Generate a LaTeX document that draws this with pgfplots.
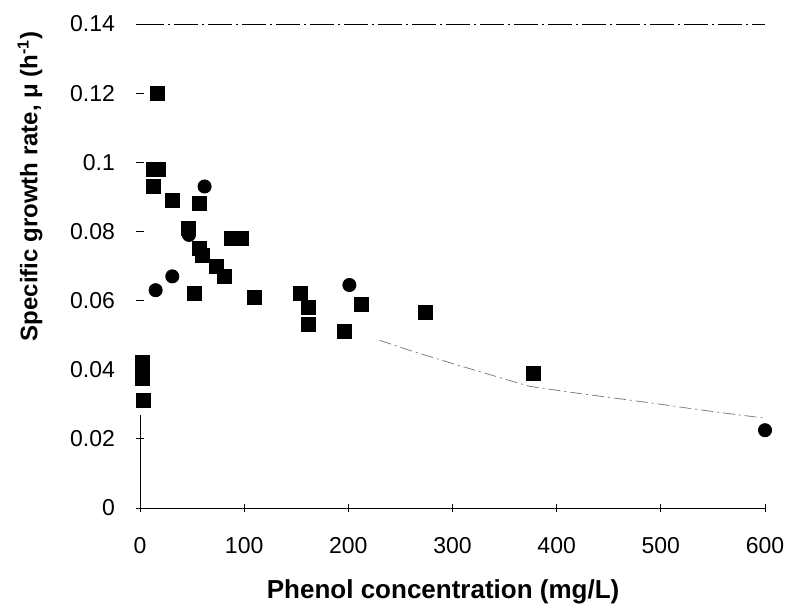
\documentclass[border=0pt]{standalone}
\usepackage{pgfplots}
\pgfplotsset{compat=1.18}
\usepackage{fontspec}
\setmainfont{Liberation Sans}
\begin{document}
\begin{tikzpicture}
\begin{axis}[
  scale only axis, width=312.5pt, height=242pt,
  xmin=0, xmax=600, ymin=0, ymax=0.14,
  axis line style={draw=none},
  xtick={0,100,200,300,400,500,600},
  xticklabels={0,100,200,300,400,500,600},
  ytick={0,0.02,0.04,0.06,0.08,0.1,0.12,0.14},
  yticklabels={0,0.02,0.04,0.06,0.08,0.1,0.12,0.14},
  xtick pos=bottom, ytick pos=left,
  tick align=center, major tick length=4pt,
  tick style={black, thin},
  /pgf/number format/assume math mode=true,
  ticklabel style={font=\fontsize{11.5}{13}\selectfont},
  yticklabel style={xshift=-7pt},
  xticklabel style={yshift=-9pt},
  xlabel={Phenol concentration (mg/L)},
  ylabel={Specific growth rate, μ (h\textsuperscript{-1})},
  xlabel style={font=\fontsize{13}{15}\bfseries, at={(axis description cs:0.485,-0.174)}, anchor=center},
  ylabel style={font=\fontsize{12}{14}\bfseries, at={(axis description cs:-0.176,0.665)}, anchor=center, rotate=0},
  clip=false,
]
\draw[thin] (axis cs:0,0) -- (axis cs:600,0);
\draw[thin, dash pattern=on 12pt off 2pt on 1pt off 2pt] (axis cs:0,0.14) -- (axis cs:600,0.14);
\draw[thin] (axis cs:0,0) -- (axis cs:0,0.027);
\addplot[thin, gray, dash pattern=on 6pt off 2pt on 1pt off 2pt] coordinates {
(230,0.0485) (260,0.0455) (300,0.0418) (340,0.0382) (374,0.0352) (420,0.0332) (458,0.0317) (500,0.0300) (528,0.0288) (560,0.0275) (600,0.0260)};
\addplot[only marks, mark=square*, mark size=3.5pt, black] coordinates {
(17,0.120) (13,0.098) (18,0.098) (13,0.093) (31,0.089) (57,0.088)
(46,0.081) (88,0.078) (97,0.078) (57,0.075) (60,0.073) (73,0.070)
(81,0.067) (52,0.062) (110,0.061) (154,0.062) (162,0.058) (213,0.059)
(162,0.053) (196,0.051) (274,0.0565) (378,0.039)
(2,0.042) (2,0.040) (2,0.0375) (3,0.031)};
\addplot[only marks, mark=*, mark size=3.3pt, black] coordinates {
(62,0.093) (47,0.079) (31,0.067) (15,0.063) (201,0.0645) (600,0.0225)};
\end{axis}
\pgfresetboundingbox
\path ([xshift=-70pt,yshift=-51.5pt]current axis.south west) rectangle ([xshift=12.5pt,yshift=12pt]current axis.north east);
\end{tikzpicture}
\end{document}
